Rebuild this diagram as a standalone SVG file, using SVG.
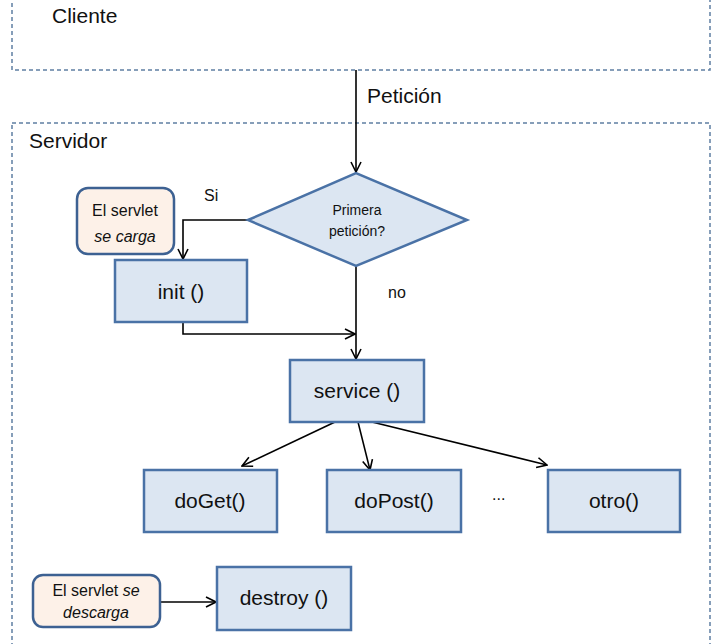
<svg xmlns="http://www.w3.org/2000/svg" width="728" height="644" viewBox="0 0 728 644">
<style>
.area{fill:none;stroke:#5f7fa3;stroke-width:1.5;stroke-dasharray:4 3}
.box{fill:#dce6f2;stroke:#4a72a6;stroke-width:2.5}
.note{fill:#fdf1e8;stroke:#3d6192;stroke-width:2.5}
.t{font-family:"Liberation Sans",Arial,sans-serif;fill:#111}
.big{font-size:21px}
.small{font-size:16px}
.dia{font-size:14px}
.c{text-anchor:middle}
.con{fill:none;stroke:#000;stroke-width:1.6}
</style>
<defs>
<marker id="ah" viewBox="0 0 12 12" refX="11" refY="6" markerWidth="12" markerHeight="12" markerUnits="userSpaceOnUse" orient="auto">
<path d="M1,1 L11,6 L1,11" fill="none" stroke="#000" stroke-width="1.6"/>
</marker>
</defs>
<g id="cliente">
<rect class="area" x="12" y="-4" width="698" height="74"/>
<text class="t big" x="52" y="23">Cliente</text>
</g>
<g id="servidor">
<rect class="area" x="12" y="123" width="698" height="530"/>
<text class="t big" x="29" y="148">Servidor</text>
</g>
<g id="connectors">
<line class="con" x1="356" y1="70" x2="356" y2="172" marker-end="url(#ah)"/>
<polyline class="con" points="248,220 183,220 183,259" marker-end="url(#ah)"/>
<line class="con" x1="356" y1="266" x2="356" y2="359" marker-end="url(#ah)"/>
<polyline class="con" points="183,322 183,334 355,334" marker-end="url(#ah)"/>
<line class="con" x1="335" y1="422" x2="242" y2="466" marker-end="url(#ah)"/>
<line class="con" x1="358" y1="422" x2="370" y2="470" marker-end="url(#ah)"/>
<line class="con" x1="372" y1="422" x2="547" y2="465" marker-end="url(#ah)"/>
<line class="con" x1="160" y1="602" x2="216" y2="602" marker-end="url(#ah)"/>
<text class="t big" x="367" y="103">Petición</text>
<text class="t small" x="204" y="201">Si</text>
<text class="t small" x="388" y="298">no</text>
</g>
<g id="primera">
<polygon class="box" points="248,220 356,173 467,220 356,266"/>
<text class="t dia c" x="357" y="215">Primera</text>
<text class="t dia c" x="357" y="236">petición?</text>
</g>
<g id="carga">
<rect class="note" x="77" y="188" width="97" height="66" rx="11"/>
<text class="t small c" x="125" y="216">El servlet</text>
<text class="t small c" x="125" y="242" font-style="italic">se carga</text>
</g>
<g id="init">
<rect class="box" x="115" y="260" width="132" height="62"/>
<text class="t big c" x="181" y="299">init ()</text>
</g>
<g id="service">
<rect class="box" x="290" y="360" width="134" height="62"/>
<text class="t big c" x="357" y="398">service ()</text>
</g>
<g id="doget">
<rect class="box" x="144" y="470" width="133" height="62"/>
<text class="t big c" x="210" y="508">doGet()</text>
</g>
<g id="dopost">
<rect class="box" x="327" y="470" width="134" height="62"/>
<text class="t big c" x="394" y="508">doPost()</text>
</g>
<text class="t small" x="492" y="500">...</text>
<g id="otro">
<rect class="box" x="548" y="470" width="132" height="62"/>
<text class="t big c" x="614" y="508">otro()</text>
</g>
<g id="descarga">
<rect class="note" x="33" y="575" width="127" height="52" rx="10"/>
<text class="t small c" x="96" y="596">El servlet <tspan font-style="italic">se</tspan></text>
<text class="t small c" x="96" y="618" font-style="italic">descarga</text>
</g>
<g id="destroy">
<rect class="box" x="217" y="567" width="134" height="63"/>
<text class="t big c" x="284" y="605">destroy ()</text>
</g>
</svg>
